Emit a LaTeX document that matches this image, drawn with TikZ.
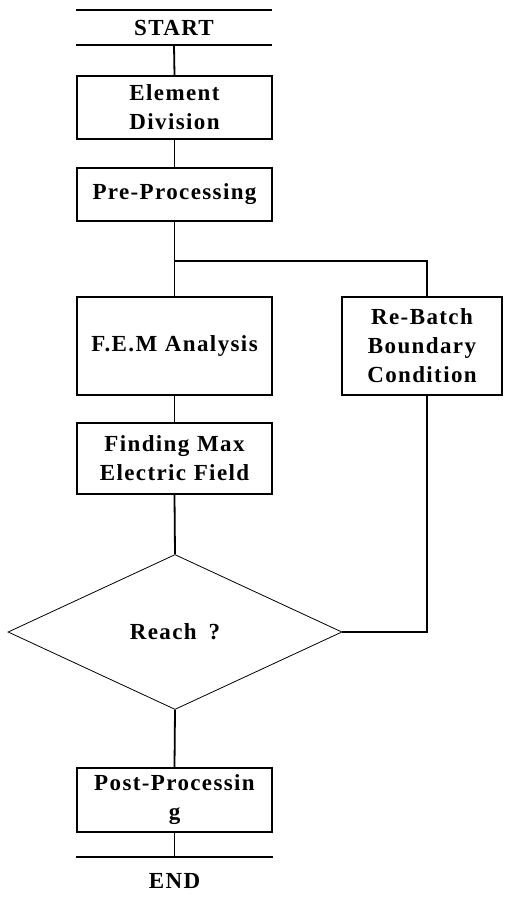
\documentclass[tikz,border=0pt]{standalone}
\usepackage{fontspec}
\setmainfont{Liberation Serif}[LetterSpace=6]
\usetikzlibrary{shapes.geometric}
\newcommand\myboxfont{\fontsize{23}{29}\selectfont\bfseries\spaceskip=12pt plus 2pt minus 1pt\relax}
\begin{document}
\begin{tikzpicture}[x=1pt,y=-1pt,
  every node/.style={font=\myboxfont, align=center, inner sep=0pt},
  box/.style={draw, line width=1.8pt, minimum width=195pt, text width=192pt},
  rbox/.style={draw, line width=1.8pt, minimum width=160pt, minimum height=98pt, text width=156pt},
  conn/.style={line width=1.8pt},
  dec/.style={draw, diamond, line width=0.8pt, minimum width=334pt, minimum height=155pt, aspect=2.15, inner sep=0pt}
]
\useasboundingbox (0,0) rectangle (505,897);
% START terminal
\node (start) [minimum width=196pt, minimum height=35pt] at (174,27.5) {START};
\draw[conn] (start.north west) -- (start.north east);
\draw[conn] (start.south west) -- (start.south east);
% boxes
\node (ed)   [box, minimum height=63pt] at (174.5,107.5) {Element\\Division};
\node (pp)   [box, minimum height=53pt] at (174.5,194.5) {Pre-Processing};
\node (fem)  [box, minimum height=98pt] at (174.5,346) {F.E.M Analysis};
\node (rb)   [rbox] at (422,346) {Re-Batch\\Boundary\\Condition};
\node (fm)   [box, minimum height=71pt] at (174.5,458.5) {Finding Max\\Electric Field};
\node (dia)  [dec] at (175,632) {Reach ?};
\node (post) [box, minimum height=64pt] at (174.5,800) {Post-Processin\\g};
\node (endn) [anchor=north, minimum width=196pt, minimum height=48pt] at (174.5,857) {END};
\draw[conn] (endn.north west) -- (endn.north east);
% connectors
\coordinate (j) at (174.5,261);
\coordinate (rbt) at ([xshift=5pt]rb.north);
\coordinate (rbb) at ([xshift=5pt]rb.south);
\draw[conn] (start.south) -- (ed.north);
\draw[conn] (ed.south) -- (pp.north);
\draw[conn] (pp.south) -- (j) -- (fem.north);
\draw[conn] (j) -| (rbt);
\draw[conn] (fem.south) -- (fm.north);
\draw[conn] (fm.south) -- (dia.north);
\draw[conn] (rbb) |- (dia.east);
\draw[conn] (dia.south) -- (post.north);
\draw[conn] (post.south) -- (endn.north);
\end{tikzpicture}
\end{document}
